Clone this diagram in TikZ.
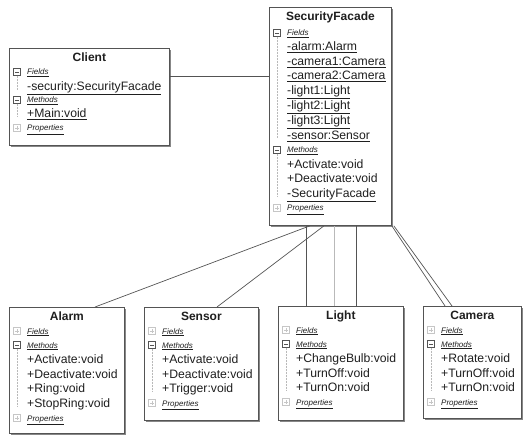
\documentclass[tikz,border=0pt]{standalone}
\usepackage{fontspec}
\setmainfont{Liberation Sans}
\usetikzlibrary{positioning,shadows}

\definecolor{umlline}{gray}{0.33}
\definecolor{umltext}{gray}{0.12}

\begin{document}
\begin{tikzpicture}[x=1pt,y=-1pt,
    classbox/.style={draw=umlline, line width=0.8pt, fill=white, anchor=north west,
      inner sep=0pt, drop shadow={shadow xshift=2pt, shadow yshift=-2pt,
      fill=umlline!70, opacity=1}},
    title/.style={font=\fontsize{12}{14}\selectfont\bfseries, text=umltext, inner sep=0pt},
    member/.style={font=\fontsize{12.2}{14}\selectfont, text=umltext, anchor=base west, inner sep=0pt},
    section/.style={font=\fontsize{8}{9}\selectfont\itshape, text=umltext, anchor=base west, inner sep=0pt},
    open icon/.style={draw=umlline, fill=white, minimum size=7pt, inner sep=0pt,
      path picture={\draw[umlline] ([xshift=1.5pt]path picture bounding box.west)
        -- ([xshift=-1.5pt]path picture bounding box.east);}},
    shut icon/.style={draw=gray!45, fill=white, minimum size=7pt, inner sep=0pt,
      path picture={\draw[gray!45] ([xshift=1.5pt]path picture bounding box.west)
        -- ([xshift=-1.5pt]path picture bounding box.east)
        ([yshift=-1.5pt]path picture bounding box.north)
        -- ([yshift=1.5pt]path picture bounding box.south);}},
    tree/.style={draw=gray!55, densely dotted, line width=0.5pt},
    assoc/.style={draw=umlline, line width=0.7pt}]
  \useasboundingbox (0,0) rectangle (532,446);

  % Class boxes
  \foreach \n/\x/\y/\w/\h in {client/9/48/160/97, facade/269/7/122/218,
      alarm/9/307/115/126, sensor/144/307/114/113,
      light/278/306/125/114, camera/423/306/98/112}
    \node[classbox, minimum width=\w pt, minimum height=\h pt] (\n) at (\x,\y) {};

  % Class names
  \foreach \n/\t in {client/Client, facade/SecurityFacade, alarm/Alarm,
      sensor/Sensor, light/Light, camera/Camera}
    \node[title, below=5pt of \n.north] (\n-title) {\t};

  % Sections with their expand / collapse boxes
  \foreach \n/\x/\a/\b/\c/\f in {client/27/72/100/128/open, facade/287/33/150/208/open,
      alarm/27/331/345/418/shut, sensor/162/331/345/403/shut,
      light/296/330/344/402/shut, camera/441/330/344/402/shut}
  {
    \node[section] (\n-fields) at (\x,\a+3) {\underline{Fields}};
    \node[section] (\n-methods) at (\x,\b+3) {\underline{Methods}};
    \node[section] (\n-props) at (\x,\c+3) {\underline{Properties}};
    \node[\f\space icon] (\n-fi) at (\x-10,\a) {};
    \node[open icon] (\n-mi) at (\x-10,\b) {};
    \node[shut icon] (\n-pi) at (\x-10,\c) {};
  }
  \foreach \n/\len in {client-fi/14, client-mi/13, facade-fi/102, facade-mi/43,
      alarm-mi/58, sensor-mi/43, light-mi/43, camera-mi/43}
    \draw[tree] (\n.south) -- ++(0,\len);

  % Members
  \foreach \y/\t [count=\i] in {86/\underline{-security:SecurityFacade},
      113/\underline{+Main:void}}
    \node[member] (client-m\i) at (27,\y+4.5) {\t};
  \foreach \y/\t [count=\i] in {46/\underline{-alarm:Alarm}, 61/\underline{-camera1:Camera},
      75/\underline{-camera2:Camera}, 90/\underline{-light1:Light}, 105/\underline{-light2:Light},
      120/\underline{-light3:Light}, 135/\underline{-sensor:Sensor},
      164/+Activate:void, 178/+Deactivate:void, 193/\underline{-SecurityFacade}}
    \node[member] (facade-m\i) at (287,\y+4.5) {\t};
  \foreach \y/\t [count=\i] in {359/+Activate:void, 374/+Deactivate:void,
      388/+Ring:void, 403/+StopRing:void}
    \node[member] (alarm-m\i) at (27,\y+4.5) {\t};
  \foreach \y/\t [count=\i] in {359/+Activate:void, 374/+Deactivate:void, 388/+Trigger:void}
    \node[member] (sensor-m\i) at (162,\y+4.5) {\t};
  \foreach \y/\t [count=\i] in {358/+ChangeBulb:void, 373/+TurnOff:void, 387/+TurnOn:void}
    \node[member] (light-m\i) at (296,\y+4.5) {\t};
  \foreach \y/\t [count=\i] in {358/+Rotate:void, 373/+TurnOff:void, 387/+TurnOn:void}
    \node[member] (camera-m\i) at (441,\y+4.5) {\t};

  % Associations
  \draw[assoc] ([yshift=-28pt]client.north east) -- ([yshift=-28pt]client.north east -| facade.west);
  \draw[assoc] ([xshift=86pt]alarm.north west) -- ([xshift=41pt]facade.south west);
  \draw[assoc] ([xshift=73pt]sensor.north west) -- ([xshift=55pt]facade.south west);
  \foreach \dx/\c in {37/umlline, 65/gray!55, 87/umlline}
    \draw[assoc, draw=\c] ([xshift=\dx pt]facade.south west) -- ([xshift=\dx pt]facade.south west |- light.north);
  \foreach \s/\dx in {0/22, 2/29}
    \draw[assoc] ([xshift=\s pt]facade.south east) -- ([xshift=\dx pt]camera.north west);
\end{tikzpicture}
\end{document}
